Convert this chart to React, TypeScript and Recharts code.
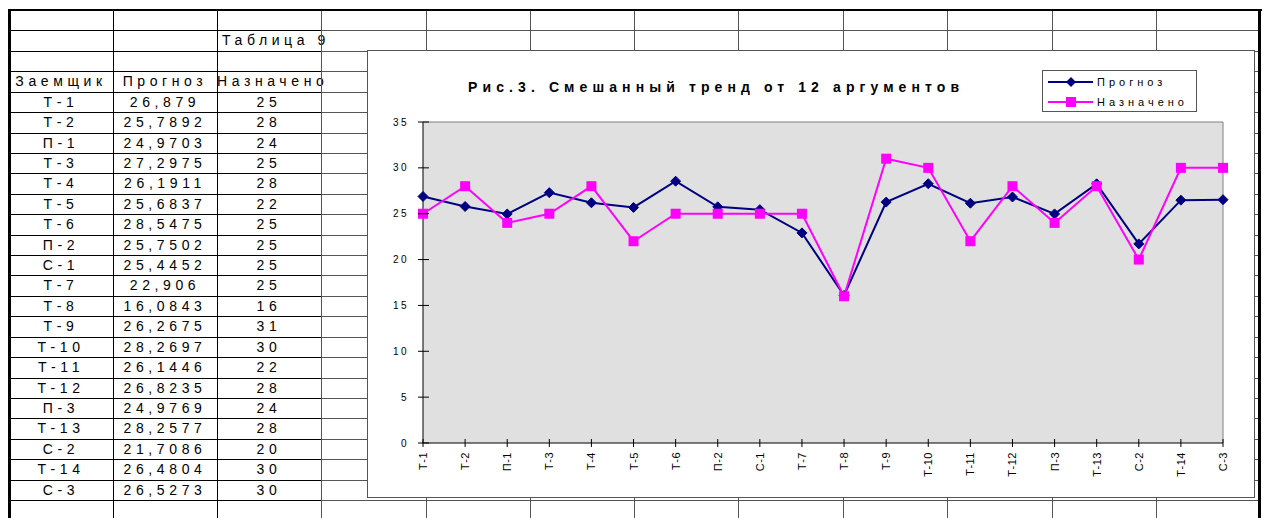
import { LineChart, Line, XAxis, YAxis, CartesianGrid, Legend, ReferenceLine } from "recharts";

// table + chart data
const borrowers = ["Т-1", "Т-2", "П-1", "Т-3", "Т-4", "Т-5", "Т-6", "П-2", "С-1", "Т-7", "Т-8", "Т-9", "Т-10", "Т-11", "Т-12", "П-3", "Т-13", "С-2", "Т-14", "С-3"];
const forecast = [26.879, 25.7892, 24.9703, 27.2975, 26.1911, 25.6837, 28.5475, 25.7502, 25.4452, 22.906, 16.0843, 26.2675, 28.2697, 26.1446, 26.8235, 24.9769, 28.2577, 21.7086, 26.4804, 26.5273];
const assigned = [25, 28, 24, 25, 28, 22, 25, 25, 25, 25, 16, 31, 30, 22, 28, 24, 28, 20, 30, 30];
const yTicks = [0, 5, 10, 15, 20, 25, 30, 35];

const chartData = borrowers.map((name, i) => ({ name, forecast: forecast[i], assigned: assigned[i] }));

// sheet geometry
const COLS = [113, 217, 321, 426, 530, 634, 738, 843, 947, 1052, 1156];
const ROW0 = 10;
const ROW_H = 20.42;
const rowTop = (i: number) => ROW0 + i * ROW_H;

const NAVY = "#000080";
const MAGENTA = "#ff00ff";
const FONT = "'Liberation Sans', Arial, sans-serif";

const fmt = (v: number) => String(v).replace(".", ",");

function Diamond({ cx, cy }: any) {
    if (cx == null || cy == null) return null;
    return <polygon points={`${cx},${cy - 5} ${cx + 5},${cy} ${cx},${cy + 5} ${cx - 5},${cy}`} fill={NAVY} stroke={NAVY} />;
}

function Square({ cx, cy }: any) {
    if (cx == null || cy == null) return null;
    return <rect x={cx - 5} y={cy - 5} width={10} height={10} fill={MAGENTA} />;
}

function YTick({ x, y, payload }: any) {
    return (
        <g>
            <line x1={x - 5} x2={x + 6} y1={y} y2={y} stroke="#000" />
            <text x={x - 14} y={y} textAnchor="end" dominantBaseline="central" fontSize={10} letterSpacing={2.5} fill="#000" fontFamily={FONT}>
                {payload.value}
            </text>
        </g>
    );
}

function XTick({ x, y, payload }: any) {
    return (
        <g>
            <line x1={x} x2={x} y1={y - 4} y2={y + 4} stroke="#000" />
            <text x={x} y={y + 9} transform={`rotate(-90, ${x}, ${y + 9})`} textAnchor="end" dominantBaseline="central" fontSize={11} letterSpacing={0.5} fill="#000" fontFamily={FONT}>
                {payload.value}
            </text>
        </g>
    );
}

function LegendBox() {
    const row = (label: string, color: string, square: boolean) => (
        <div style={{ display: "flex", alignItems: "center", height: 20 }}>
            <svg width={48} height={14}>
                <line x1={1} x2={46} y1={7} y2={7} stroke={color} strokeWidth={2} />
                {square
                    ? <rect x={19} y={2} width={10} height={10} fill={color} />
                    : <polygon points="24,2 29,7 24,12 19,7" fill={color} />}
            </svg>
            <span style={{ fontSize: 11, letterSpacing: 4, marginLeft: 2 }}>{label}</span>
        </div>
    );
    return (
        <div style={{ border: "1px solid #555", background: "#fff", width: 155, height: 42, fontFamily: FONT, paddingLeft: 4, paddingTop: 1, boxSizing: "border-box" }}>
            {row("Прогноз", NAVY, false)}
            {row("Назначено", MAGENTA, true)}
        </div>
    );
}

export default function App() {
    const cell = (row: number, left: number, width: number, text: string, align: "center" | "left" = "center") => (
        <div
            key={`${row}-${left}`}
            style={{
                position: "absolute", left, top: rowTop(row), width, height: ROW_H, lineHeight: `${ROW_H}px`,
                textAlign: align, fontSize: 14, letterSpacing: 4.6, whiteSpace: "nowrap",
                paddingLeft: align === "left" ? 5 : 0,
            }}
        >
            {text}
        </div>
    );

    const hLines = [];
    for (let i = 1; i < 25; i++) {
        hLines.push(<div key={"ha" + i} style={{ position: "absolute", left: 10, top: Math.round(rowTop(i)), width: 311, height: 1, background: "#000" }} />);
        hLines.push(<div key={"hb" + i} style={{ position: "absolute", left: 321, top: Math.round(rowTop(i)), width: 938, height: 1, background: "#555" }} />);
    }

    return (
        <div style={{ position: "absolute", left: 0, top: 0, width: 1263, height: 518, overflow: "hidden", background: "#fff", fontFamily: FONT, color: "#000" }}>
            {/* cell texts */}
            {cell(1, 217, 104, "Таблица 9", "left")}
            {cell(3, 9, 104, "Заемщик")}
            {cell(3, 113, 104, "Прогноз")}
            {cell(3, 217, 104, "Назначено")}
            {borrowers.map((b, i) => cell(4 + i, 9, 104, b))}
            {forecast.map((v, i) => cell(4 + i, 113, 104, fmt(v)))}
            {assigned.map((v, i) => cell(4 + i, 217, 104, String(v)))}

            {/* grid */}
            {hLines}
            {COLS.map((x, i) => (
                <div key={"v" + x} style={{ position: "absolute", left: x, top: 10, width: 1, height: 508, background: i < 2 ? "#000" : "#555" }} />
            ))}
            <div style={{ position: "absolute", left: 8, top: 9, width: 1254, height: 2, background: "#000" }} />
            <div style={{ position: "absolute", left: 8, top: 9, width: 3, height: 509, background: "#000" }} />
            <div style={{ position: "absolute", left: 1258, top: 9, width: 3, height: 509, background: "#000" }} />

            {/* embedded chart */}
            <div style={{ position: "absolute", left: 367, top: 50, width: 888, height: 448, boxSizing: "border-box", border: "1px solid #555", background: "#fff" }}>
                <div style={{ position: "absolute", left: 100, top: 28, fontSize: 14, fontWeight: "bold", letterSpacing: 5.1, whiteSpace: "nowrap" }}>
                    Рис.3. Смешанный тренд от 12 аргументов
                </div>
                <LineChart width={886} height={446} data={chartData} margin={{ top: 71, right: 31, bottom: 0, left: 15 }}>
                    <CartesianGrid fill="#e0e0e0" horizontal={false} vertical={false} />
                    <ReferenceLine y={35} stroke="#808080" />
                    <ReferenceLine x="С-3" stroke="#808080" />
                    <XAxis dataKey="name" interval={0} height={54} tickSize={0} tickMargin={0} tickLine={false} stroke="#000" tick={<XTick />} />
                    <YAxis domain={[0, 35]} ticks={yTicks} width={40} tickSize={0} tickMargin={0} tickLine={false} stroke="#000" tick={<YTick />} />
                    <Legend layout="vertical" align="center" verticalAlign="middle" content={<LegendBox />} wrapperStyle={{ left: 674, top: 19, width: 155 }} />
                    <Line name="Прогноз" dataKey="forecast" stroke={NAVY} strokeWidth={2} dot={<Diamond />} isAnimationActive={false} />
                    <Line name="Назначено" dataKey="assigned" stroke={MAGENTA} strokeWidth={2} dot={<Square />} isAnimationActive={false} />
                </LineChart>
            </div>
        </div>
    );
}
